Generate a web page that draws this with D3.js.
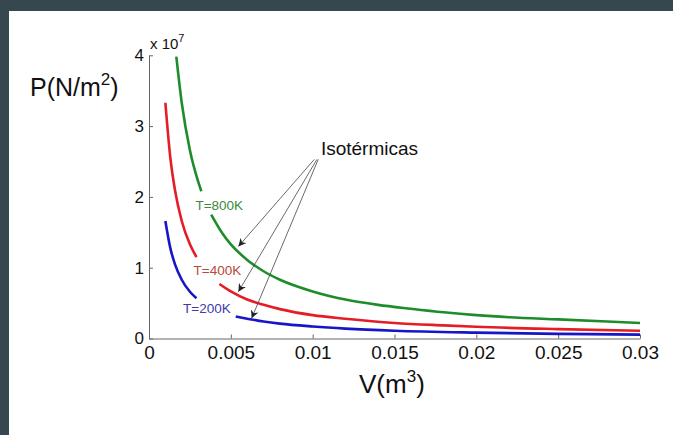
<!DOCTYPE html>
<html>
<head>
    <meta charset="utf-8">
    <script src="https://d3js.org/d3.v7.min.js" charset="utf-8"></script>
    <title>Isotermicas</title>
    <style type="text/css">
        body {
            margin: 0;
            background: #fff;
        }
        text {
            font-family: "Liberation Sans", Arial, Helvetica, sans-serif;
        }
        .axis path, .axis line {
            stroke: #666;
            stroke-width: 1;
        }
        .axis text {
            fill: #111;
        }
    </style>
</head>
<body>

<div id="visContainer"></div>

<script>

// volumes (m^3) and pressures (x 10^7 N/m^2), null = gap for the label
var vol800 = [0.00167, 0.002, 0.0025, 0.003, 0.0032, null, 0.0038, 0.0045, 0.005, 0.006, 0.007, 0.008, 0.01, 0.012, 0.014, 0.016, 0.018, 0.02, 0.022, 0.025, 0.028, 0.03];
var p800   = [3.98, 3.33, 2.66, 2.22, 2.08, null, 1.75, 1.48, 1.33, 1.11, 0.95, 0.83, 0.665, 0.55, 0.475, 0.42, 0.37, 0.33, 0.30, 0.27, 0.24, 0.22];

var vol400 = [0.001, 0.0013, 0.0016, 0.002, 0.0025, 0.0029, null, 0.0043, 0.005, 0.006, 0.007, 0.008, 0.01, 0.012, 0.015, 0.018, 0.02, 0.025, 0.03];
var p400   = [3.33, 2.56, 2.08, 1.66, 1.33, 1.15, null, 0.77, 0.665, 0.55, 0.475, 0.415, 0.33, 0.28, 0.22, 0.185, 0.165, 0.133, 0.11];

var vol200 = [0.001, 0.0013, 0.0016, 0.002, 0.0025, 0.0029, null, 0.0053, 0.006, 0.007, 0.008, 0.01, 0.012, 0.015, 0.02, 0.025, 0.03];
var p200   = [1.66, 1.28, 1.04, 0.83, 0.66, 0.57, null, 0.31, 0.28, 0.24, 0.21, 0.17, 0.14, 0.11, 0.083, 0.066, 0.055];

var xTicks = [0, 0.005, 0.01, 0.015, 0.02, 0.025, 0.03];
var xTickLabels = ["0", "0.005", "0.01", "0.015", "0.02", "0.025", "0.03"];
var yTicks = [0, 1, 2, 3, 4];
var yTickLabels = ["0", "1", "2", "3", "4"];

var seriesNames = ["T=800K", "T=400K", "T=200K"];
var lineColors = ["#1f8c2c", "#e41e26", "#1616c8"];
var labelColors = ["#3b8a3b", "#b84a36", "#3c3ca4"];
// label anchor points (V, P)
var labelPos = [[0.00284, 1.885], [0.00272, 0.97], [0.00208, 0.42]];

// annotation arrows: start and tip (V, P)
var arrowFrom = [[0.01010, 2.53], [0.01026, 2.53], [0.01034, 2.53]];
var arrowTo = [[0.00546, 1.30], [0.00546, 0.66], [0.00627, 0.285]];

var width = 673, height = 435;

var svg = d3.select("#visContainer").append("svg")
        .attr("width", width)
        .attr("height", height);

// dark frame along the top and left edge
svg.append("rect").attr("x", 0).attr("y", 0).attr("width", width).attr("height", 11).attr("fill", "#37474f");
svg.append("rect").attr("x", 0).attr("y", 0).attr("width", 9).attr("height", height).attr("fill", "#37474f");

var x = d3.scaleLinear().domain([0, 0.03]).range([149, 640]);
var y = d3.scaleLinear().domain([0, 4]).range([338.5, 55.3]);

var xAxis = d3.axisBottom(x)
        .tickValues(xTicks)
        .tickFormat(function (d, i) { return xTickLabels[i]; })
        .tickSizeInner(-4)
        .tickSizeOuter(0)
        .tickPadding(7);

var yAxis = d3.axisLeft(y)
        .tickValues(yTicks)
        .tickFormat(function (d, i) { return yTickLabels[i]; })
        .tickSizeInner(-4)
        .tickSizeOuter(0)
        .tickPadding(5);

svg.append("g")
        .attr("class", "axis")
        .attr("transform", "translate(0," + y(0) + ")")
        .call(xAxis)
        .selectAll("text")
        .attr("font-size", 19);

svg.append("g")
        .attr("class", "axis")
        .attr("transform", "translate(" + x(0) + ",0)")
        .call(yAxis)
        .selectAll("text")
        .attr("font-size", 17);

svg.selectAll(".axis").attr("font-family", null);

// x 10^7 multiplier
var mult = svg.append("text")
        .attr("x", 150)
        .attr("y", 49)
        .attr("font-size", 15)
        .attr("fill", "#111")
        .text("x 10");
mult.append("tspan")
        .attr("dy", -7)
        .attr("font-size", 11)
        .text("7");

// axis titles
var yTitle = svg.append("text")
        .attr("x", 30)
        .attr("y", 96)
        .attr("font-size", 25)
        .attr("fill", "#111")
        .text("P(N/m");
yTitle.append("tspan").attr("dy", -11).attr("font-size", 17).text("2");
yTitle.append("tspan").attr("dy", 11).text(")");

var xTitle = svg.append("text")
        .attr("x", 359)
        .attr("y", 393)
        .attr("font-size", 26)
        .attr("fill", "#111")
        .text("V(m");
xTitle.append("tspan").attr("dy", -11).attr("font-size", 17).text("3");
xTitle.append("tspan").attr("dy", 11).text(")");

// isotherms
var line = d3.line()
        .defined(function (d) { return d[0] !== null; })
        .x(function (d) { return x(d[0]); })
        .y(function (d) { return y(d[1]); })
        .curve(d3.curveMonotoneX);

var allVol = [vol800, vol400, vol200];
var allP = [p800, p400, p200];

for (var s = 0; s < 3; s++) {
    var pts = allVol[s].map(function (v, i) { return [v, allP[s][i]]; });
    svg.append("path")
            .datum(pts)
            .attr("d", line)
            .attr("fill", "none")
            .attr("stroke", lineColors[s])
            .attr("stroke-width", 2.6);

    svg.append("text")
            .attr("x", x(labelPos[s][0]))
            .attr("y", y(labelPos[s][1]))
            .attr("dy", "0.35em")
            .attr("font-size", 13.5)
            .attr("fill", labelColors[s])
            .text(seriesNames[s]);
}

// annotation
svg.append("defs").append("marker")
        .attr("id", "head")
        .attr("viewBox", "0 0 10 10")
        .attr("refX", 10)
        .attr("refY", 5)
        .attr("markerWidth", 8)
        .attr("markerHeight", 8)
        .attr("markerUnits", "userSpaceOnUse")
        .attr("orient", "auto")
        .append("path")
        .attr("d", "M0,0 L10,5 L0,10 L3,5 Z")
        .attr("fill", "#222");

svg.selectAll(".arrow")
        .data(arrowFrom)
        .enter().append("line")
        .attr("class", "arrow")
        .attr("x1", function (d) { return x(d[0]); })
        .attr("y1", function (d) { return y(d[1]); })
        .attr("x2", function (d, i) { return x(arrowTo[i][0]); })
        .attr("y2", function (d, i) { return y(arrowTo[i][1]); })
        .attr("stroke", "#444")
        .attr("stroke-width", 0.8)
        .attr("marker-end", "url(#head)");

svg.append("text")
        .attr("x", 369.5)
        .attr("y", 154.5)
        .attr("text-anchor", "middle")
        .attr("font-size", 19)
        .attr("fill", "#111")
        .text("Isotérmicas");

</script>

</body>
</html>
